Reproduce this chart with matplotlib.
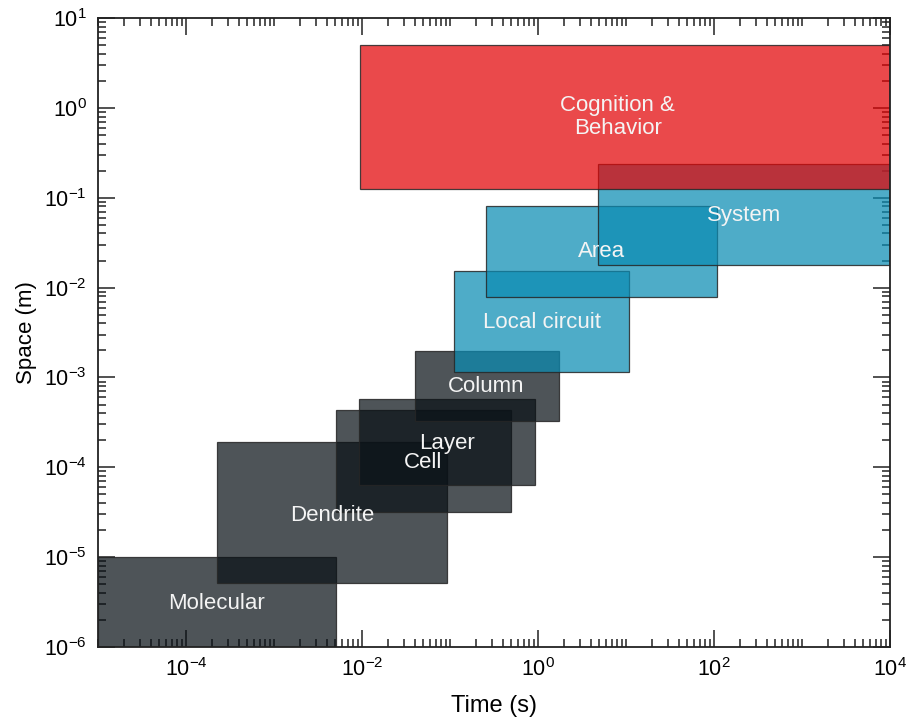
import numpy as np
import matplotlib
matplotlib.use('Agg')
from matplotlib import pyplot as plt
from matplotlib.patches import Rectangle
from matplotlib.ticker import LogLocator, FixedLocator, NullFormatter

plt.rcParams['font.family'] = ['Liberation Sans', 'DejaVu Sans']
plt.rcParams['mathtext.default'] = 'regular'

# boxes: (time_min, time_max) in s, (space_min, space_max) in m
names = ['Molecular', 'Dendrite', 'Cell', 'Layer', 'Column',
         'Local circuit', 'Area', 'System', 'Cognition &\nBehavior']
t_lo = [1e-5, 2.25e-4, 5.1e-3, 9.2e-3, 0.040, 0.111, 0.256, 4.8, 0.0095]
t_hi = [5.1e-3, 0.092, 0.49, 0.925, 1.73, 10.8, 108, 1e4, 1e4]
s_lo = [1e-6, 5.15e-6, 3.2e-5, 6.4e-5, 3.3e-4, 1.15e-3, 7.85e-3, 0.0178, 0.125]
s_hi = [1e-5, 1.9e-4, 4.35e-4, 5.7e-4, 1.97e-3, 0.0153, 0.081, 0.237, 5.0]
group = ['gray', 'gray', 'gray', 'gray', 'gray', 'blue', 'blue', 'blue', 'red']

# label anchor points
lab_t = [2.25e-4, 4.56e-3, 0.049, 0.092, 0.256, 1.11, 5.3, 219, 8.1]
lab_s = [3.09e-6, 2.94e-5, 1.12e-4, 1.86e-4, 8.0e-4, 4.14e-3, 0.0249, 0.064, 0.79]

colors = {'gray': (0.04, 0.07, 0.09), 'blue': (0.04, 0.55, 0.70), 'red': (0.89, 0.01, 0.02)}
alpha = 0.72

fig = plt.figure(figsize=(9.07, 7.19), dpi=100)
ax = fig.add_axes([0.108, 0.100, 0.873, 0.875])
ax.set_xscale('log')
ax.set_yscale('log')
ax.set_xlim(1e-5, 1e4)
ax.set_ylim(1e-6, 1e1)

for i in range(len(names)):
    c = colors[group[i]]
    r = Rectangle((t_lo[i], s_lo[i]), t_hi[i] - t_lo[i], s_hi[i] - s_lo[i],
                  facecolor=c + (alpha,), edgecolor=(0.15, 0.15, 0.15, 0.85),
                  linewidth=0.9, zorder=2)
    ax.add_patch(r)

for i in range(len(names)):
    ax.text(lab_t[i], lab_s[i], names[i], color='#f4f4f4', fontsize=16,
            ha='center', va='center', zorder=5, linespacing=1.1)

ax.xaxis.set_major_locator(FixedLocator([1e-4, 1e-2, 1e0, 1e2, 1e4]))
ax.xaxis.set_minor_locator(LogLocator(base=10, subs=np.arange(1, 10), numticks=30))
ax.xaxis.set_minor_formatter(NullFormatter())
ax.yaxis.set_major_locator(LogLocator(base=10, numticks=20))
ax.yaxis.set_minor_locator(LogLocator(base=10, subs=np.arange(2, 10), numticks=30))
ax.yaxis.set_minor_formatter(NullFormatter())

ax.tick_params(which='both', direction='in', top=True, right=True, width=1.1,
               color='#222222')
ax.tick_params(which='major', length=12, labelsize=15.5, pad=8)
ax.tick_params(which='minor', length=6)
for s in ax.spines.values():
    s.set_linewidth(1.3)
    s.set_color('#222222')

ax.set_xlabel('Time (s)', fontsize=17, labelpad=10)
ax.set_ylabel('Space (m)', fontsize=16, labelpad=5)

plt.savefig('out.png', dpi=100)
